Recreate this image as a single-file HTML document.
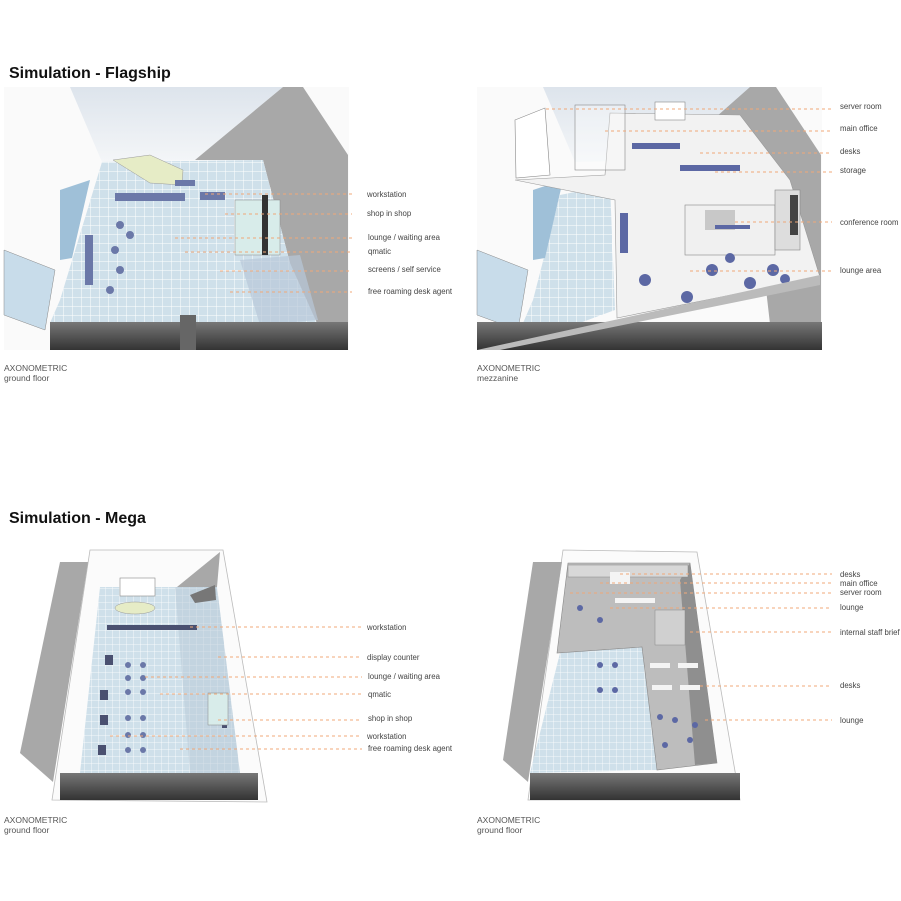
<!DOCTYPE html>
<html><head><meta charset="utf-8"><style>
body{margin:0;background:#fff}
svg{display:block}
text{font-family:"Liberation Sans",sans-serif}
.l{font-size:7.8px;fill:#444}
.t{font-size:16px;font-weight:bold;fill:#111}
.c{font-size:8.5px;fill:#555}
.d{stroke:#f0a878;stroke-width:1;stroke-dasharray:3,3;fill:none}
</style></head><body>
<svg width="901" height="901" viewBox="0 0 901 901" xmlns="http://www.w3.org/2000/svg">
<defs>
<pattern id="g" width="9" height="9" patternUnits="userSpaceOnUse"><rect width="9" height="9" fill="#cfe0ea"/><path d="M0 0H9M0 0V9" stroke="#fff" stroke-width="1"/></pattern>
<pattern id="g2" width="7" height="7" patternUnits="userSpaceOnUse"><rect width="7" height="7" fill="#cfe0ea"/><path d="M0 0H7M0 0V7" stroke="#fff" stroke-width="0.8"/></pattern>
<linearGradient id="sky" x1="0" y1="0" x2="0" y2="1"><stop offset="0" stop-color="#dde4ec"/><stop offset="1" stop-color="#f4f6f8"/></linearGradient>
<linearGradient id="dk" x1="0" y1="0" x2="0" y2="1"><stop offset="0" stop-color="#777"/><stop offset="1" stop-color="#333"/></linearGradient>
</defs>

<text x="9" y="78" class="t">Simulation - Flagship</text>
<text x="9" y="523" class="t">Simulation - Mega</text>

<g>
<rect x="4" y="87" width="345" height="263" fill="#fafafa"/>
<polygon points="70,87 283,87 195,160 102,162" fill="url(#sky)"/>
<polygon points="283,87 303,87 348,155 348,350 300,350 290,263 263,160 195,160" fill="#a8a8a8"/>
<polygon points="102,162 263,160 290,263 317,323 315,347 50,347 50,323 60,300" fill="url(#g)"/>
<polygon points="113,160 150,155 183,170 182,185 150,183" fill="#e6ecc6" stroke="#999" stroke-width=".5"/>
<polygon points="4,250 55,270 45,330 4,315" fill="#c8dcea" stroke="#888" stroke-width=".5"/>
<polygon points="60,190 90,180 72,258 60,260" fill="#9fc0d8"/>
<polygon points="240,260 300,255 318,320 260,325" fill="#b8c8d8" opacity=".7"/>
<rect x="50" y="322" width="298" height="28" fill="url(#dk)"/>
<rect x="180" y="315" width="16" height="35" fill="#666"/>
<g fill="#6b78a8"><rect x="115" y="193" width="70" height="8"/><rect x="200" y="192" width="25" height="8"/><circle cx="120" cy="225" r="4"/><circle cx="130" cy="235" r="4"/><circle cx="115" cy="250" r="4"/><circle cx="110" cy="290" r="4"/><circle cx="120" cy="270" r="4"/><rect x="85" y="235" width="8" height="50"/><rect x="175" y="180" width="20" height="6"/></g>
<rect x="235" y="200" width="45" height="55" fill="#d8ecea" stroke="#888" stroke-width=".5"/>
<rect x="262" y="195" width="6" height="60" fill="#333"/>
</g>
<path class="d" d="M205 194H352M225 214H352M175 238H352M185 252H352M220 271H352M230 292H352"/>
<text x="367" y="197" class="l">workstation</text>
<text x="367" y="216" class="l">shop in shop</text>
<text x="368" y="240" class="l">lounge / waiting area</text>
<text x="368" y="254" class="l">qmatic</text>
<text x="368" y="272" class="l">screens / self service</text>
<text x="368" y="294" class="l">free roaming desk agent</text>
<text x="4" y="371" class="c">AXONOMETRIC</text>
<text x="4" y="381" class="c">ground floor</text>

<g>
<rect x="477" y="87" width="345" height="263" fill="#fafafa"/>
<polygon points="543,87 756,87 668,160 575,162" fill="url(#sky)"/>
<polygon points="750,87 776,87 821,155 821,350 773,350 763,263 736,160 690,140" fill="#a8a8a8"/>
<polygon points="560,195 610,185 615,310 520,345 523,323 533,300" fill="url(#g)"/>
<polygon points="477,250 528,270 518,330 477,315" fill="#c8dcea" stroke="#888" stroke-width=".5"/>
<polygon points="533,190 563,180 545,258 533,260" fill="#9fc0d8"/>
<polygon points="515,180 605,175 610,113 740,115 790,180 820,277 617,318 615,200" fill="#f2f2f2" stroke="#999" stroke-width=".6"/>
<polygon points="515,120 545,108 550,175 516,178" fill="#fff" stroke="#888" stroke-width=".6"/>
<rect x="575" y="105" width="50" height="65" fill="#fff" fill-opacity=".3" stroke="#888" stroke-width=".6"/>
<rect x="655" y="102" width="30" height="18" fill="#fff" stroke="#888" stroke-width=".6"/>
<rect x="685" y="205" width="90" height="50" fill="#eee" fill-opacity=".5" stroke="#888" stroke-width=".6"/>
<rect x="705" y="210" width="30" height="20" fill="#c8c8c8"/>
<rect x="775" y="190" width="25" height="60" fill="#ddd" stroke="#888" stroke-width=".6"/>
<rect x="790" y="195" width="8" height="40" fill="#444"/>
<g fill="#5c68a4"><circle cx="645" cy="280" r="6"/><circle cx="687" cy="297" r="6"/><circle cx="712" cy="270" r="6"/><circle cx="730" cy="258" r="5"/><circle cx="750" cy="283" r="6"/><circle cx="773" cy="270" r="6"/><circle cx="785" cy="279" r="5"/><rect x="632" y="143" width="48" height="6"/><rect x="680" y="165" width="60" height="6"/><rect x="620" y="213" width="8" height="40"/><rect x="715" y="225" width="35" height="4"/></g>
<rect x="477" y="322" width="345" height="28" fill="url(#dk)"/>
<polygon points="477,350 820,275 820,285 500,350" fill="#bbb"/>
</g>
<path class="d" d="M546 109H832M605 131H832M700 153H832M715 172H832M735 222H832M690 271H832"/>
<text x="840" y="109" class="l">server room</text>
<text x="840" y="131" class="l">main office</text>
<text x="840" y="154" class="l">desks</text>
<text x="840" y="173" class="l">storage</text>
<text x="840" y="225" class="l">conference room</text>
<text x="840" y="273" class="l">lounge area</text>
<text x="477" y="371" class="c">AXONOMETRIC</text>
<text x="477" y="381" class="c">mezzanine</text>

<g>
<polygon points="90,550 223,550 267,802 52,800" fill="#fbfbfb" stroke="#bbb" stroke-width=".8"/>
<polygon points="60,562 88,562 53,782 20,753" fill="#a8a8a8"/>
<polygon points="220,552 217,587 177,587" fill="#a8a8a8"/>
<polygon points="100,587 217,587 240,773 80,773" fill="url(#g2)"/>
<polygon points="175,587 217,587 240,773 190,773" fill="#b8c8d6" opacity=".5"/>
<rect x="120" y="578" width="35" height="18" fill="#fff" stroke="#888" stroke-width=".6"/>
<ellipse cx="135" cy="608" rx="20" ry="6" fill="#e6ecc6" stroke="#999" stroke-width=".5"/>
<polygon points="190,595 215,585 216,600 195,603" fill="#777"/>
<g fill="#4a5070"><rect x="107" y="625" width="90" height="5"/><rect x="105" y="655" width="8" height="10"/><rect x="100" y="690" width="8" height="10"/><rect x="100" y="715" width="8" height="10"/><rect x="98" y="745" width="8" height="10"/><rect x="222" y="693" width="5" height="35"/></g>
<g fill="#6b78a8"><circle cx="128" cy="665" r="3"/><circle cx="143" cy="665" r="3"/><circle cx="128" cy="678" r="3"/><circle cx="143" cy="678" r="3"/><circle cx="128" cy="692" r="3"/><circle cx="143" cy="692" r="3"/><circle cx="128" cy="718" r="3"/><circle cx="143" cy="718" r="3"/><circle cx="128" cy="735" r="3"/><circle cx="143" cy="735" r="3"/><circle cx="128" cy="750" r="3"/><circle cx="143" cy="750" r="3"/></g>
<rect x="208" y="693" width="20" height="32" fill="#d8ecea" stroke="#888" stroke-width=".5"/>
<rect x="60" y="773" width="198" height="27" fill="url(#dk)"/>
</g>
<path class="d" d="M190 627H362M218 657H362M145 677H362M160 694H362M218 720H362M110 736H362M180 749H362"/>
<text x="367" y="630" class="l">workstation</text>
<text x="367" y="660" class="l">display counter</text>
<text x="368" y="679" class="l">lounge / waiting area</text>
<text x="368" y="697" class="l">qmatic</text>
<text x="368" y="721" class="l">shop in shop</text>
<text x="367" y="739" class="l">workstation</text>
<text x="368" y="751" class="l">free roaming desk agent</text>
<text x="4" y="823" class="c">AXONOMETRIC</text>
<text x="4" y="833" class="c">ground floor</text>

<g>
<polygon points="563,550 697,552 740,800 528,800" fill="#fbfbfb" stroke="#bbb" stroke-width=".8"/>
<polygon points="533,562 562,562 528,782 503,760" fill="#a8a8a8"/>
<polygon points="560,653 642,647 657,770 530,773" fill="url(#g2)"/>
<polygon points="568,563 690,563 717,763 657,770 642,647 557,653" fill="#bdbdbd" stroke="#888" stroke-width=".6"/>
<polygon points="690,563 717,763 695,765 680,580" fill="#8f8f8f"/>
<rect x="568" y="565" width="120" height="12" fill="#d8d8d8" stroke="#888" stroke-width=".5"/>
<rect x="655" y="610" width="30" height="35" fill="#d0d0d0" stroke="#888" stroke-width=".5"/>
<g fill="#f4f4f4"><rect x="615" y="598" width="40" height="5"/><rect x="650" y="663" width="20" height="5"/><rect x="678" y="663" width="20" height="5"/><rect x="652" y="685" width="20" height="5"/><rect x="680" y="685" width="20" height="5"/><rect x="610" y="572" width="20" height="12"/></g>
<g fill="#5c68a4"><circle cx="580" cy="608" r="3"/><circle cx="600" cy="620" r="3"/><circle cx="660" cy="717" r="3"/><circle cx="675" cy="720" r="3"/><circle cx="695" cy="725" r="3"/><circle cx="665" cy="745" r="3"/><circle cx="690" cy="740" r="3"/><circle cx="600" cy="665" r="3"/><circle cx="615" cy="665" r="3"/><circle cx="600" cy="690" r="3"/><circle cx="615" cy="690" r="3"/></g>
<rect x="530" y="773" width="210" height="27" fill="url(#dk)"/>
</g>
<path class="d" d="M620 574H832M600 583H832M570 593H832M610 608H832M690 632H832M700 686H832M705 720H832"/>
<text x="840" y="577" class="l">desks</text>
<text x="840" y="586" class="l">main office</text>
<text x="840" y="595" class="l">server room</text>
<text x="840" y="610" class="l">lounge</text>
<text x="840" y="635" class="l">internal staff brief</text>
<text x="840" y="688" class="l">desks</text>
<text x="840" y="723" class="l">lounge</text>
<text x="477" y="823" class="c">AXONOMETRIC</text>
<text x="477" y="833" class="c">ground floor</text>
</svg>
</body></html>
